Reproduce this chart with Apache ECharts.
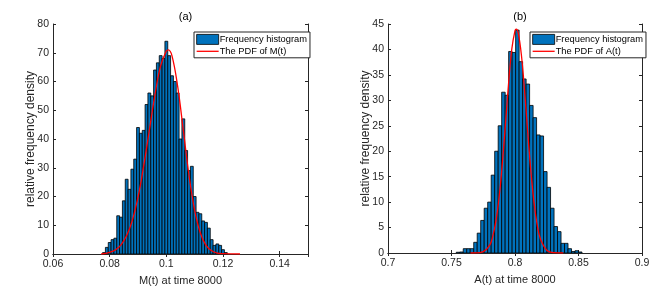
<!DOCTYPE html>
<html><head><meta charset="utf-8">
<script src="https://cdn.jsdelivr.net/npm/echarts@6/dist/echarts.min.js"></script>
<style>html,body{margin:0;padding:0;background:#fff}#c{width:672px;height:298px}</style>
</head><body><div id="c"></div>
<script>
// ---- Panel (a): M(t) ----
const mBinStart = 0.0775;
const mBinWidth = 0.001;
const mHist = [0.5, 2.3, 4, 5, 5.5, 13.3, 12.8, 18.5, 26, 22.5, 29.5, 33, 44, 42, 43, 52, 56, 55, 64, 66.5, 69, 68, 74, 69, 62, 60, 56, 40, 47, 36, 29, 30.5, 20, 14.5, 14, 11.5, 11, 9, 5, 3, 3.5, 3, 1.5, 0.5];
const mPdfX = [0.077, 0.080, 0.082, 0.084, 0.086, 0.088, 0.090, 0.092, 0.094, 0.096, 0.098, 0.100, 0.1007, 0.102, 0.104, 0.106, 0.108, 0.110, 0.112, 0.114, 0.116, 0.118, 0.120, 0.126];
const mPdfY = [0, 0.6, 1.4, 3.2, 6.4, 11.7, 19.7, 30.6, 43, 55.5, 65.5, 70.6, 71, 68.9, 58.3, 43, 27.4, 15.2, 7.3, 3, 1.1, 0.3, 0.1, 0];
const mXAxis = {min: 0.06, max: 0.15, interval: 0.02};
const mYAxis = {min: 0, max: 80, interval: 10};

// ---- Panel (b): A(t) ----
const aBinStart = 0.75375;
const aBinWidth = 0.00275;
const aHist = [0.15, 0.2, 0.85, 0.85, 0.85, 2.1, 3.9, 6.4, 8.8, 10, 15.3, 20, 25, 31.6, 31, 39.6, 39.4, 43.8, 37.6, 34.2, 33.2, 29, 26.6, 23.2, 23, 16, 12.9, 8.8, 5.2, 4.2, 1.9, 1.9, 0.85, 0.3, 0.45, 0.2];
const aPdfX = [0.765, 0.770, 0.775, 0.780, 0.7825, 0.785, 0.7875, 0.790, 0.7925, 0.795, 0.7975, 0.800, 0.801, 0.8025, 0.805, 0.8075, 0.810, 0.8125, 0.815, 0.8175, 0.820, 0.825, 0.830, 0.838];
const aPdfY = [0, 0.03, 0.26, 1.5, 3.3, 6.3, 11, 17.5, 25.4, 33.5, 40.1, 43.7, 44, 43.3, 39, 32, 23.8, 16.1, 9.9, 5.5, 2.8, 0.55, 0.07, 0];
const aXAxis = {min: 0.7, max: 0.9, interval: 0.05};
const aYAxis = {min: 0, max: 45, interval: 5};

const titles = ['(a)', '(b)'];
const xNames = ['M(t) at time 8000', 'A(t) at time 8000'];
const yName = 'relative frequency density';
const histName = 'Frequency histogram';
const pdfNames = ['The PDF of M(t)', 'The PDF of A(t)'];

const SANS = "'Liberation Sans',Arial,sans-serif";
const TXT = '#262626';

const grids = [
  {left: 53, top: 24, width: 255, height: 230},
  {left: 388, top: 24, width: 254, height: 229}
];

function bins(start, w, vals) {
  return vals.map((v, i) => [start + i * w, start + (i + 1) * w, v]);
}
function zip(xs, ys) { return xs.map((x, i) => [x, ys[i]]); }

function renderBar(params, api) {
  const p0 = api.coord([api.value(0), api.value(2)]);
  const p1 = api.coord([api.value(1), 0]);
  return {
    type: 'rect',
    shape: {x: p0[0], y: p0[1], width: p1[0] - p0[0], height: p1[1] - p0[1]},
    style: {fill: '#0072BD', stroke: '#000', lineWidth: 0.8}
  };
}

const axisLine = {show: true, lineStyle: {color: TXT, width: 1}};
const axisTick = {show: true, inside: true, length: 3, lineStyle: {color: TXT}};

function xAxes(r, gi, name) {
  const maxOnTick = Math.abs(r.max / r.interval - Math.round(r.max / r.interval)) < 1e-6;
  return [
    {type: 'value', gridIndex: gi, position: 'bottom', min: r.min, max: r.max, interval: r.interval,
     axisLine, axisTick, splitLine: {show: false},
     axisLabel: {color: TXT, fontSize: 10.5, fontFamily: SANS, margin: 5, showMaxLabel: maxOnTick},
     name, nameLocation: 'middle', nameGap: 21, nameMoveOverlap: false,
     nameTextStyle: {color: TXT, fontSize: 11, fontFamily: SANS}},
    {type: 'value', gridIndex: gi, position: 'top', min: r.min, max: r.max, interval: r.interval,
     axisLine, axisTick, splitLine: {show: false}, axisLabel: {show: false}}
  ];
}
function yAxes(r, gi) {
  return [
    {type: 'value', gridIndex: gi, position: 'left', min: r.min, max: r.max, interval: r.interval,
     axisLine, axisTick, splitLine: {show: false},
     axisLabel: {color: TXT, fontSize: 10.5, fontFamily: SANS, margin: 4},
     name: yName, nameLocation: 'middle', nameGap: 16, nameMoveOverlap: false,
     nameTextStyle: {color: TXT, fontSize: 12, fontFamily: SANS}},
    {type: 'value', gridIndex: gi, position: 'right', min: r.min, max: r.max, interval: r.interval,
     axisLine, axisTick, splitLine: {show: false}, axisLabel: {show: false}}
  ];
}

function legend(gi, left) {
  return {
    orient: 'vertical', left, top: 32, padding: [2, 3, 2, 2], itemGap: 2,
    itemWidth: 22, itemHeight: 10, backgroundColor: '#fff', borderColor: TXT, borderWidth: 1,
    textStyle: {color: '#000', fontSize: 9.3, fontFamily: SANS, padding: [0, 0, 0, -4]},
    data: [{name: histName, icon: 'rect', itemStyle: {color: '#0072BD', borderColor: '#000', borderWidth: 0.8}},
           {name: pdfNames[gi], itemStyle: {opacity: 0}, lineStyle: {color: '#FF0000', width: 1.3}}]
  };
}

const chart = echarts.init(document.getElementById('c'), null, {renderer: 'canvas'});
chart.setOption({
  animation: false,
  backgroundColor: '#fff',
  title: titles.map((t, i) => ({
    text: t, left: grids[i].left + grids[i].width / 2, top: 6, textAlign: 'center',
    textStyle: {color: '#000', fontSize: 11, fontWeight: 'normal', fontFamily: SANS}
  })),
  grid: grids,
  xAxis: [...xAxes(mXAxis, 0, xNames[0]), ...xAxes(aXAxis, 1, xNames[1])],
  yAxis: [...yAxes(mYAxis, 0), ...yAxes(aYAxis, 1)],
  legend: [legend(0, 194), legend(1, 530)],
  series: [
    {type: 'custom', name: histName, xAxisIndex: 0, yAxisIndex: 0, renderItem: renderBar,
     itemStyle: {color: '#0072BD', borderColor: '#000', borderWidth: 0.8},
     encode: {x: [0, 1], y: 2}, data: bins(mBinStart, mBinWidth, mHist), clip: true},
    {type: 'line', name: pdfNames[0], xAxisIndex: 0, yAxisIndex: 0, smooth: 0.4, symbol: 'none',
     lineStyle: {color: '#FF0000', width: 1.3}, itemStyle: {color: '#FF0000'}, z: 5,
     data: zip(mPdfX, mPdfY)},
    {type: 'custom', name: histName, xAxisIndex: 2, yAxisIndex: 2, renderItem: renderBar,
     itemStyle: {color: '#0072BD', borderColor: '#000', borderWidth: 0.8},
     encode: {x: [0, 1], y: 2}, data: bins(aBinStart, aBinWidth, aHist), clip: true},
    {type: 'line', name: pdfNames[1], xAxisIndex: 2, yAxisIndex: 2, smooth: 0.4, symbol: 'none',
     lineStyle: {color: '#FF0000', width: 1.3}, itemStyle: {color: '#FF0000'}, z: 5,
     data: zip(aPdfX, aPdfY)}
  ]
});
</script></body></html>
